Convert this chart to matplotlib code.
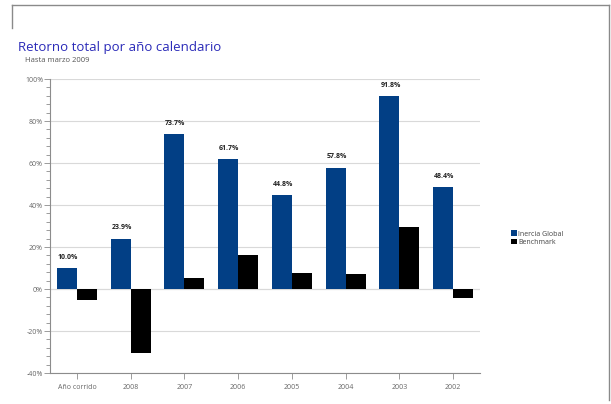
import numpy as np
import matplotlib
matplotlib.use('Agg')
import matplotlib.pyplot as plt
from matplotlib.ticker import MultipleLocator, FuncFormatter

# Data
categories = ['Año corrido', '2008', '2007', '2006', '2005', '2004', '2003', '2002']
inercia = [10.0, 23.9, 73.7, 61.7, 44.8, 57.8, 91.8, 48.4]
benchmark = [-5.0, -30.5, 5.1, 16.4, 7.8, 7.0, 29.4, -4.3]

blue = '#023f85'
grey = '#8c8c8c'

plt.rcParams['font.family'] = ['Open Sans', 'DejaVu Sans']

fig = plt.figure(figsize=(6.11, 4.04), dpi=100)
ax = fig.add_axes([50/611, 1 - 373/404, 430/611, 294/404])

x = np.arange(len(categories))
w = 0.37
ax.bar(x - w/2, inercia, w, color=blue, label='Inercia Global', zorder=3)
ax.bar(x + w/2, benchmark, w, color='black', label='Benchmark', zorder=3)

for xi, v in zip(x, inercia):
    ax.text(xi - w/2 + 0.02, v + 3.5, f'{v:.1f}%', ha='center', va='bottom',
            fontsize=5, fontweight='bold', color='#222222')

ax.set_xlim(-0.5, 7.5)
ax.set_ylim(-40, 100)
ax.yaxis.set_major_locator(MultipleLocator(20))
ax.yaxis.set_minor_locator(MultipleLocator(4))
ax.yaxis.set_major_formatter(FuncFormatter(lambda v, p: f'{v:.0f}%'))
ax.set_xticks(x)
ax.set_xticklabels(categories)
ax.tick_params(axis='both', labelsize=5, colors=grey, labelcolor='#666666')
ax.tick_params(axis='y', which='major', length=4, width=0.6, pad=1)
ax.tick_params(axis='y', which='minor', length=3, width=0.6, color=grey)
ax.tick_params(axis='x', length=4, width=0.6, pad=4)
ax.grid(axis='y', which='major', color='#d9d9d9', linewidth=0.8, zorder=0)
ax.axhline(0, color='#d9d9d9', linewidth=0.8, zorder=1)
for s in ['top', 'right']:
    ax.spines[s].set_visible(False)
for s in ['left', 'bottom']:
    ax.spines[s].set_color(grey)
    ax.spines[s].set_linewidth(0.8)

leg = fig.legend(loc='upper left', bbox_to_anchor=(508/611, 1 - 227/404),
                 fontsize=5, frameon=False, handlelength=0.8, handleheight=0.8,
                 handletextpad=0.2, labelspacing=0.2, borderpad=0)
for t in leg.get_texts():
    t.set_color('#444444')

fig.text(18/611, 1 - 47/404, 'Retorno total por año calendario', fontsize=9.5,
         color='#2a2ab8', va='center', ha='left')
fig.text(25/611, 1 - 60/404, 'Hasta marzo 2009', fontsize=5.5,
         color='#555555', va='center', ha='left')

# partial frame around the panel
frame = dict(color='#8a8a8a', linewidth=1, transform=fig.transFigure)
fig.add_artist(plt.Line2D([12/611, 609/611], [1 - 5/404, 1 - 5/404], **frame))
fig.add_artist(plt.Line2D([12/611, 12/611], [1 - 5/404, 1 - 28/404], **frame))
fig.add_artist(plt.Line2D([609/611, 609/611], [1 - 5/404, 1 - 400/404], **frame))

plt.savefig('out.png', dpi=100)
